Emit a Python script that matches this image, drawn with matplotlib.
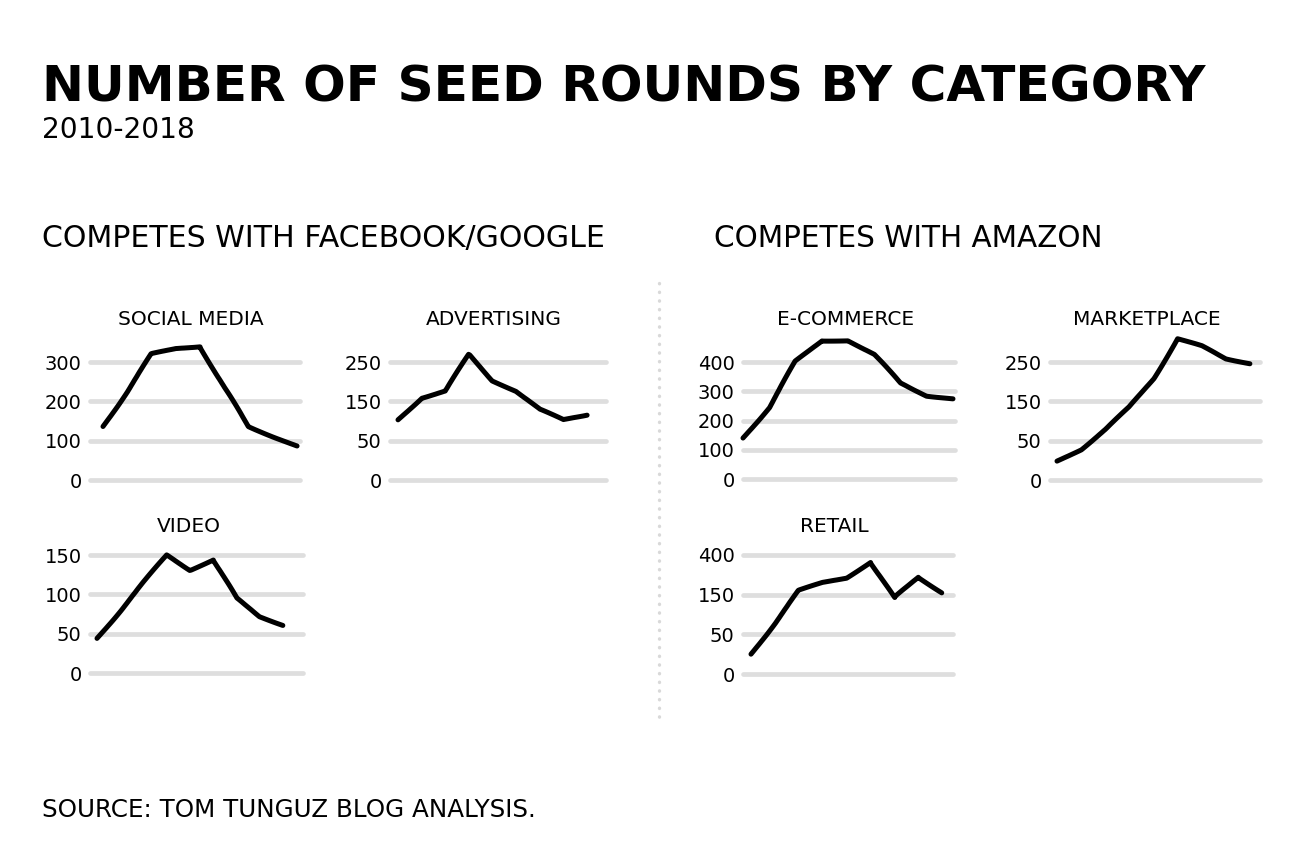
import numpy as np
import matplotlib
matplotlib.use("Agg")
import matplotlib.pyplot as plt
from matplotlib.lines import Line2D

# ---------------- data ----------------
years = [2010, 2011, 2012, 2013, 2014, 2015, 2016, 2017, 2018]

social_media = [136, 225, 320, 334, 340, 235, 136, 111, 86]
advertising = [103, 159, 176, 269, 203, 176, 129, 103, 116]
video = [44, 79, 115, 150, 131, 144, 95, 72, 61]
ecommerce = [140, 245, 402, 473, 474, 425, 328, 285, 274]
marketplace = [24, 39, 78, 135, 208, 309, 290, 258, 247]
retail = [25, 78, 175, 226, 257, 355, 142, 261, 164]

social_ticks = [0, 100, 200, 300]
advertising_ticks = [0, 50, 150, 250]
video_ticks = [0, 50, 100, 150]
ecommerce_ticks = [0, 100, 200, 300, 400]
marketplace_ticks = [0, 50, 150, 250]
retail_ticks = [0, 50, 150, 400]

panel_titles = ["SOCIAL MEDIA", "ADVERTISING", "VIDEO", "E-COMMERCE", "MARKETPLACE", "RETAIL"]

title = "NUMBER OF SEED ROUNDS BY CATEGORY"
subtitle = "2010-2018"
left_header = "COMPETES WITH FACEBOOK/GOOGLE"
right_header = "COMPETES WITH AMAZON"
source = "SOURCE: TOM TUNGUZ BLOG ANALYSIS."

# ---------------- style / layout ----------------
W, H = 1303, 856
FONT = "DejaVu Sans"
plt.rcParams["font.family"] = [FONT]
GRID_COLOR = "#dedede"

fig = plt.figure(figsize=(W / 100, H / 100), dpi=100)
fig.patch.set_facecolor("white")
renderer = fig.canvas.get_renderer()


def fx(px):
    return px / W


def fy(py):
    return 1 - py / H


def fit_text(x, y, s, width, size0, ha="left", **kw):
    t = fig.text(fx(x), fy(y), s, fontsize=size0, ha=ha, va="baseline", **kw)
    w = t.get_window_extent(renderer).width
    t.set_fontsize(size0 * width / w)
    return t


def make_scale(ticks):
    t = np.asarray(ticks, dtype=float)
    n = len(t)
    xs = np.concatenate([[t[0] - (t[1] - t[0]) * 100], t, [t[-1] + (t[-1] - t[-2]) * 100]])
    us = np.concatenate([[-100.0], np.arange(n, dtype=float), [n - 1 + 100.0]])

    def fwd(v):
        return np.interp(v, xs, us)

    def inv(u):
        return np.interp(u, us, xs)

    return fwd, inv


# (values, ticks, title, grid x0, grid x1, data x0, data x1, y px of first tick, y px of last tick, title center x, title baseline y)
panels = [
    (social_media, social_ticks, panel_titles[0], 90, 300, 103, 297, 480, 362, 191, 325),
    (advertising, advertising_ticks, panel_titles[1], 390, 606, 398, 587, 480, 362, 494, 325),
    (video, video_ticks, panel_titles[2], 90, 303, 97, 283, 673, 555, 189, 532),
    (ecommerce, ecommerce_ticks, panel_titles[3], 743, 955, 743, 953, 479, 362, 846, 325),
    (marketplace, marketplace_ticks, panel_titles[4], 1050, 1260, 1057, 1250, 480, 362, 1147, 325),
    (retail, retail_ticks, panel_titles[5], 743, 953, 751, 942, 674, 555, 834, 532),
]

for vals, ticks, ptitle, gx0, gx1, dx0, dx1, yb, yt, tcx, tby in panels:
    n = len(ticks)
    ppu = (yb - yt) / (n - 1)
    pad_bottom, pad_top = 12, 45
    bottom_px = yb + pad_bottom
    top_px = yt - pad_top
    ax = fig.add_axes([fx(gx0), fy(bottom_px), (gx1 - gx0) / W, (bottom_px - top_px) / H])
    ax.patch.set_alpha(0)
    fwd, inv = make_scale(ticks)
    ax.set_yscale("function", functions=(fwd, inv))
    ax.set_ylim(inv(-pad_bottom / ppu), inv(n - 1 + pad_top / ppu))
    ypp = (years[-1] - years[0]) / (dx1 - dx0)
    ax.set_xlim(years[0] - (dx0 - gx0) * ypp, years[-1] + (gx1 - dx1) * ypp)
    for tk in ticks:
        ax.axhline(tk, color=GRID_COLOR, lw=3.4, solid_capstyle="round", clip_on=False, zorder=1)
    ln, = ax.plot(years, vals, color="black", lw=3.6, solid_capstyle="round",
                  solid_joinstyle="round", clip_on=False, zorder=3)
    ln.set_sketch_params(scale=0.6, length=120, randomness=2)
    ax.set_yticks(ticks)
    ax.set_yticklabels([str(tk) for tk in ticks], fontsize=14, color="black")
    ax.yaxis.set_minor_locator(matplotlib.ticker.NullLocator())
    ax.tick_params(axis="y", length=0, pad=6)
    ax.set_xticks([])
    for sp in ax.spines.values():
        sp.set_visible(False)
    fig.text(fx(tcx), fy(tby), ptitle, ha="center", va="baseline", fontsize=14.5, color="black")

# ---------------- texts ----------------
fit_text(42, 101, title, 1163, 40, fontweight="bold", color="black")
fit_text(42, 138, subtitle, 153, 20, color="black")
fit_text(42, 247, left_header, 562, 21, color="black")
fit_text(714, 247, right_header, 389, 21, color="black")
fit_text(42, 817, source, 495, 18, color="black")

# dotted divider
fig.add_artist(Line2D([fx(659), fx(659)], [fy(283), fy(722)], transform=fig.transFigure,
                      color="#d9d9d9", lw=2.4, linestyle=(0, (0.1, 2.5)),
                      dash_capstyle="round"))

fig.savefig("out.png", dpi=100, facecolor="white")
